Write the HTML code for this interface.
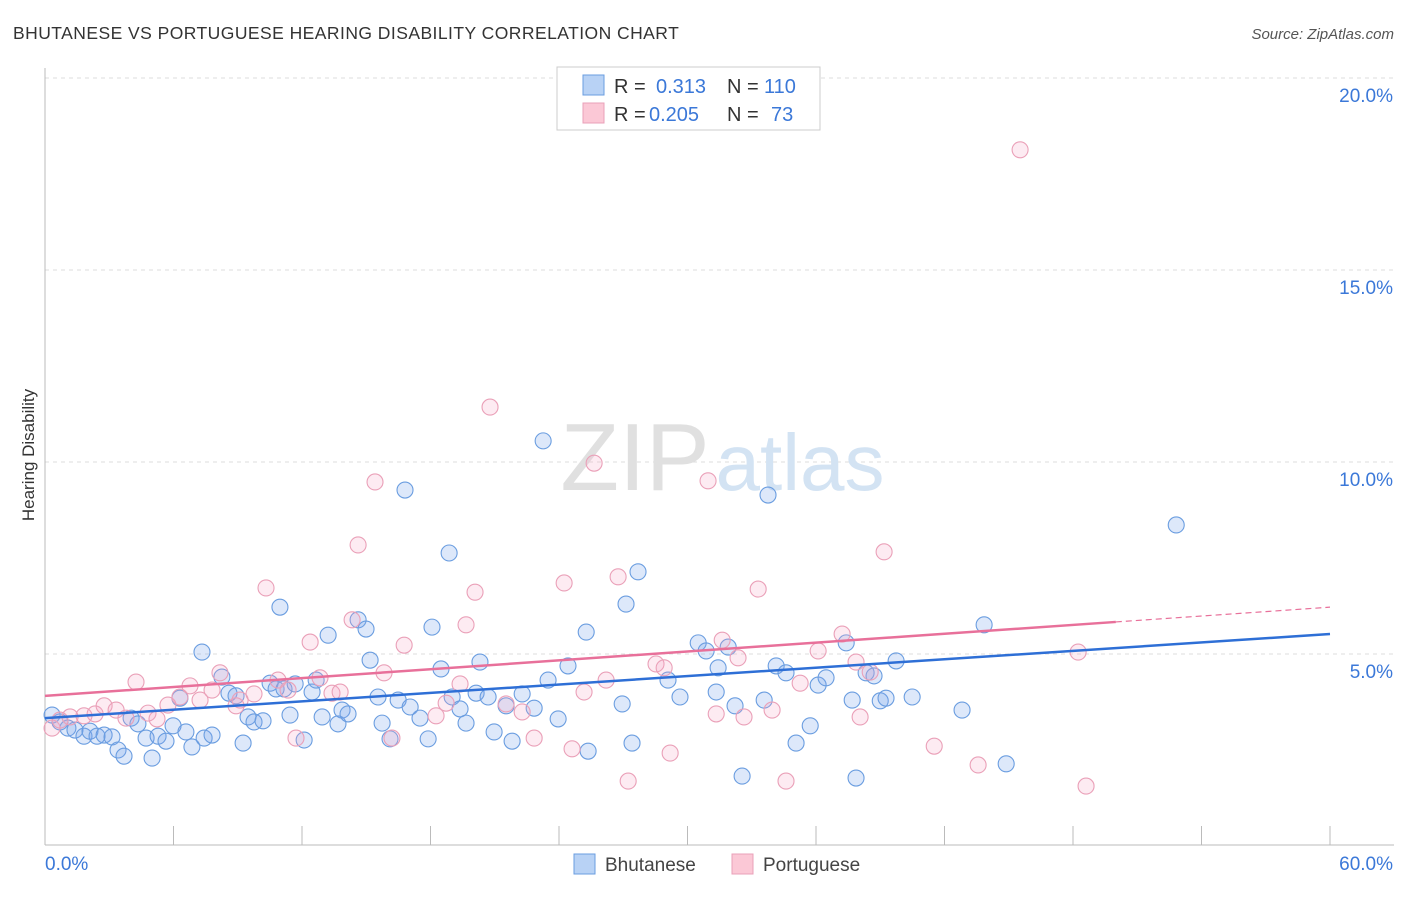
<!DOCTYPE html>
<html><head><meta charset="utf-8"><style>
body{margin:0;background:#fff;font-family:"Liberation Sans",sans-serif;}
svg text{font-family:"Liberation Sans",sans-serif;}
</style></head><body>
<svg id="chart" width="1406" height="892" xmlns="http://www.w3.org/2000/svg">
<text x="13" y="39" font-size="17.5" fill="#333" letter-spacing="0.45">BHUTANESE VS PORTUGUESE HEARING DISABILITY CORRELATION CHART</text>
<text x="1394" y="39" font-size="15" fill="#555" text-anchor="end" font-style="italic">Source: ZipAtlas.com</text>
<g id="grid"></g>
<g>
<text x="635" y="490" font-size="96" fill="#e0e0e0" text-anchor="middle" font-family="Liberation Serif,serif">ZIP</text>
<text x="800" y="490" font-size="80" fill="#d3e3f3" text-anchor="middle">atlas</text>
</g>
<g id="axes"></g>
<g id="pts"></g>
<g id="trend"></g>
<text transform="translate(34,455) rotate(-90)" font-size="17" fill="#333" text-anchor="middle">Hearing Disability</text>
<g>
<rect x="557" y="67" width="263" height="63" fill="#fff" stroke="#ccc"/>
<rect x="583" y="75" width="21" height="20" fill="#b8d2f5" stroke="#6a9de0"/>
<rect x="583" y="103" width="21" height="20" fill="#fbc8d6" stroke="#eaa0b8"/>
<text x="614" y="93" font-size="20" fill="#333">R = </text><text x="656" y="93" font-size="20" fill="#3b78d8">0.313</text>
<text x="727" y="93" font-size="20" fill="#333">N = </text><text x="764" y="93" font-size="20" fill="#3b78d8">110</text>
<text x="614" y="121" font-size="20" fill="#333">R = </text><text x="649" y="121" font-size="20" fill="#3b78d8">0.205</text>
<text x="727" y="121" font-size="20" fill="#333">N = </text><text x="771" y="121" font-size="20" fill="#3b78d8">73</text>
</g>
<g>
<rect x="574" y="854" width="21" height="20" fill="#b8d2f5" stroke="#6a9de0"/>
<text x="605" y="871" font-size="19" fill="#444">Bhutanese</text>
<rect x="732" y="854" width="21" height="20" fill="#fbc8d6" stroke="#eaa0b8"/>
<text x="763" y="871" font-size="19" fill="#444">Portuguese</text>
</g>
</svg>
<script>
const blueX=[0.33,0.70,1.07,1.40,1.82,2.10,2.43,2.76,3.13,3.41,3.69,4.02,4.34,4.72,5.00,5.28,5.65,5.98,6.30,6.58,6.86,7.33,7.43,7.80,8.26,8.59,8.92,9.25,9.48,9.76,10.18,10.51,10.79,10.97,11.16,11.44,11.68,12.10,12.47,12.66,12.94,13.22,13.68,13.87,14.15,14.62,14.99,15.18,15.55,15.74,16.11,16.49,16.81,17.05,17.51,17.89,18.07,18.49,18.87,19.01,19.38,19.66,20.13,20.31,20.69,20.97,21.53,21.81,22.28,22.84,23.26,23.49,23.96,24.42,25.27,25.36,26.95,27.13,27.41,27.69,29.09,29.65,30.50,30.87,31.34,31.43,31.90,32.22,32.55,33.58,33.76,34.14,34.60,35.07,35.73,36.10,36.47,37.41,37.69,37.87,38.34,38.71,39.00,39.27,39.74,40.49,42.82,43.85,44.88,52.82];
const blueY=[3.41,3.23,3.07,3.02,2.86,2.99,2.86,2.89,2.84,2.50,2.34,3.33,3.18,2.81,2.29,2.86,2.73,3.13,3.85,2.97,2.58,5.05,2.81,2.89,4.40,3.98,3.91,2.68,3.36,3.23,3.26,4.24,4.09,6.22,4.09,3.41,4.22,2.76,4.01,4.32,3.36,5.49,3.18,3.54,3.44,5.89,5.65,4.84,3.88,3.20,2.79,3.80,9.27,3.62,3.33,2.79,5.70,4.61,7.63,3.88,3.57,3.20,3.98,4.79,3.88,2.97,3.65,2.73,3.96,3.59,10.55,4.32,3.31,4.69,5.57,2.47,3.70,6.30,2.68,7.14,4.32,3.88,5.29,5.08,4.01,4.64,5.18,3.65,1.82,3.80,9.14,4.69,4.51,2.68,3.13,4.19,4.38,5.29,3.80,1.77,4.51,4.43,3.78,3.85,4.82,3.88,3.54,5.76,2.14,8.36];
const pinkX=[0.33,0.70,1.17,1.82,2.34,2.76,3.32,3.78,4.25,4.81,5.23,5.74,6.30,6.77,7.24,7.80,8.17,8.92,9.11,9.76,10.32,10.88,11.35,11.72,12.38,12.84,13.40,13.78,14.34,14.62,15.41,15.83,16.20,16.77,18.26,18.73,19.38,19.66,20.08,20.78,21.53,22.28,22.84,24.24,24.61,25.17,25.64,26.20,26.76,27.23,28.53,28.91,29.19,30.96,31.34,31.62,32.36,32.64,33.30,33.95,34.60,35.26,36.10,37.22,37.87,38.06,38.53,39.18,41.52,43.57,45.53,48.24,48.61];
const pinkY=[3.07,3.28,3.36,3.39,3.44,3.65,3.54,3.33,4.27,3.46,3.31,3.67,3.88,4.17,3.80,4.06,4.51,3.65,3.80,3.96,6.72,4.32,4.06,2.81,5.31,4.38,3.98,4.01,5.89,7.84,9.48,4.51,2.81,5.23,3.39,3.72,4.22,5.76,6.61,11.43,3.70,3.49,2.81,6.85,2.53,4.01,9.97,4.32,7.01,1.69,4.74,4.64,2.42,9.51,3.44,5.36,4.90,3.36,6.69,3.54,1.69,4.24,5.08,5.52,4.79,3.36,4.53,7.66,2.60,2.11,18.13,5.05,1.56];
const yTicks=[5,10,15,20];
const xTickLabels=["0.0%","60.0%"];
const blueTrend=[3.33,5.52];
const pinkTrend=[3.91,6.22];
const NS="http://www.w3.org/2000/svg";
const X0=45,X1=1330,Y0=846,PY=38.4;
const xs=v=>X0+(v/60)*(X1-X0);
const ys=v=>Y0-v*PY;
function mk(tag,attrs,parent){const e=document.createElementNS(NS,tag);for(const k in attrs)e.setAttribute(k,attrs[k]);parent.appendChild(e);return e;}
const grid=document.getElementById('grid'),axes=document.getElementById('axes'),pts=document.getElementById('pts'),trend=document.getElementById('trend');
yTicks.forEach(t=>{
 const l=mk('line',{x1:45,x2:1394,y1:ys(t),y2:ys(t),stroke:'#ddd','stroke-dasharray':'4,4'},grid);
 
 
 const tx=mk('text',{x:1393,y:ys(t)+24,'font-size':19,fill:'#3b78d8','text-anchor':'end'},grid);
 tx.textContent=t.toFixed(1)+'%';
 
 
});
const ax=mk('line',{x1:45,x2:1394,y1:845,y2:845,stroke:'#bbb'},axes);


const ay=mk('line',{x1:45,x2:45,y1:68,y2:845,stroke:'#bbb'},axes);


for(let i=0;i<=10;i++){const t=mk('line',{x1:xs(i*6),x2:xs(i*6),y1:826,y2:845,stroke:'#bbb'},axes);
 
 }
const l0=mk('text',{x:45,y:870,'font-size':19,fill:'#3b78d8'},axes);l0.textContent=xTickLabels[0];


const l1=mk('text',{x:1393,y:870,'font-size':19,fill:'#3b78d8','text-anchor':'end'},axes);l1.textContent=xTickLabels[1];


blueX.forEach((v,i)=>{const c=mk('circle',{cx:xs(v),cy:ys(blueY[i]),r:8,fill:'rgba(120,165,235,0.25)',stroke:'#6a9de0','stroke-width':1.1},pts);
 
 });
pinkX.forEach((v,i)=>{const c=mk('circle',{cx:xs(v),cy:ys(pinkY[i]),r:8,fill:'rgba(245,165,195,0.22)',stroke:'#eaa0b8','stroke-width':1.1},pts);
 
 });
const bl=mk('line',{x1:xs(0),y1:ys(blueTrend[0]),x2:xs(60),y2:ys(blueTrend[1]),stroke:'#2e6fd6','stroke-width':2.5},trend);


const pAt=v=>pinkTrend[0]+(pinkTrend[1]-pinkTrend[0])*v/60;
const pl=mk('line',{x1:xs(0),y1:ys(pAt(0)),x2:xs(50),y2:ys(pAt(50)),stroke:'#e8709a','stroke-width':2.5},trend);


const pd=mk('line',{x1:xs(50),y1:ys(pAt(50)),x2:xs(60),y2:ys(pAt(60)),stroke:'#e8709a','stroke-width':1.2,'stroke-dasharray':'6,4'},trend);


</script>
</body></html>
